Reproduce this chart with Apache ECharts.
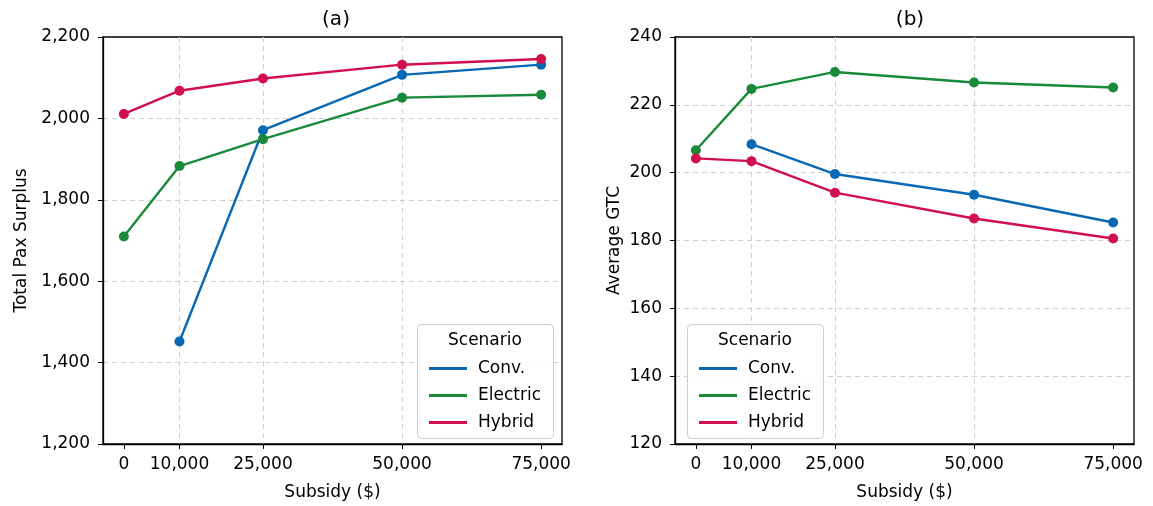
<!DOCTYPE html>
<html>
<head>
<meta charset="utf-8">
<script src="https://cdn.jsdelivr.net/npm/echarts@6/dist/echarts.min.js"></script>
<style>
  html, body { margin: 0; padding: 0; background: #fff; }
  #chart { width: 1153px; height: 506px; }
</style>
</head>
<body>
<div id="chart"></div>
<script>
// subsidy levels on the x axis
const subsidies = [0, 10000, 25000, 50000, 75000];

// panel (a): total pax surplus
const surplusConv = [null, 1452, 1971, 2107, 2132];
const surplusElectric = [1710, 1883, 1949, 2051, 2058];
const surplusHybrid = [2011, 2068, 2098, 2132, 2146];

// panel (b): average GTC
const gtcConv = [null, 208.4, 199.6, 193.5, 185.3];
const gtcElectric = [206.6, 224.7, 229.7, 226.6, 225.1];
const gtcHybrid = [204.2, 203.4, 194.1, 186.5, 180.6];

const scenarios = ["Conv.", "Electric", "Hybrid"];
const colors = ["#0868b4", "#188a3a", "#d20f4d"];

const font = "DejaVu Sans";
const fmt = v => v.toLocaleString("en-US");

const pairs = arr => subsidies.map((x, i) => [x, arr[i]]).filter(p => p[1] !== null);

const gridLine = { color: "#d0d0d0", type: [5, 4], width: 1 };

const xAxis = gridIndex => ({
  type: "value",
  gridIndex,
  min: -3750,
  max: 78750,
  name: "Subsidy ($)",
  nameLocation: "middle",
  nameGap: 40,
  nameTextStyle: { fontFamily: font, fontSize: 17, color: "#000" },
  axisLine: { show: true, onZero: false, lineStyle: { color: "#000", width: 1.3 } },
  axisTick: { show: true, length: 5, customValues: subsidies, lineStyle: { color: "#000" } },
  axisLabel: {
    customValues: subsidies,
    formatter: fmt,
    fontFamily: font,
    fontSize: 17,
    color: "#000",
    margin: 12
  },
  splitLine: { show: true, showMinLine: false, showMaxLine: false, lineStyle: gridLine }
});

const yAxis = (gridIndex, name, min, max, interval, gap) => ({
  type: "value",
  gridIndex,
  min,
  max,
  interval,
  name,
  nameLocation: "middle",
  nameGap: gap,
  nameTextStyle: { fontFamily: font, fontSize: 17, color: "#000" },
  axisLine: { show: true, onZero: false, lineStyle: { color: "#000", width: 1.3 } },
  axisTick: { show: true, length: 5, lineStyle: { color: "#000" } },
  axisLabel: { formatter: fmt, fontFamily: font, fontSize: 17, color: "#000", margin: 13 },
  splitLine: { show: true, showMinLine: false, showMaxLine: false, lineStyle: gridLine }
});

const lineSeries = (name, data, idx, gridIndex) => ({
  type: "line",
  name,
  xAxisIndex: gridIndex,
  yAxisIndex: gridIndex,
  data: pairs(data),
  symbol: "circle",
  symbolSize: 10,
  showSymbol: true,
  lineStyle: { width: 2.4, color: colors[idx] },
  itemStyle: { color: colors[idx] },
  z: 3 + idx
});

const legend = (left, top) => ({
  data: scenarios,
  left,
  top,
  orient: "vertical",
  icon: "rect",
  itemWidth: 38,
  itemHeight: 3,
  itemGap: 10,
  z: 20,
  textStyle: { fontFamily: font, fontSize: 17, color: "#000", padding: [0, 0, 0, 6] },
  selectedMode: false
});

const legendBox = (x, y) => [
  {
    type: "rect",
    left: x,
    top: y,
    shape: { width: 136, height: 114, r: 4 },
    style: { fill: "rgba(255,255,255,0.85)", stroke: "#cccccc", lineWidth: 1 },
    z: 10
  },
  {
    type: "text",
    left: x + 31,
    top: y + 8,
    style: { text: "Scenario", font: "17px DejaVu Sans", fill: "#000" },
    z: 11
  }
];

const chart = echarts.init(document.getElementById("chart"));
chart.setOption({
  backgroundColor: "#fff",
  animation: false,
  title: [
    { text: "(a)", left: 331, top: 5, textAlign: "center",
      textStyle: { fontFamily: font, fontSize: 20, fontWeight: "normal", color: "#000" } },
    { text: "(b)", left: 905, top: 5, textAlign: "center",
      textStyle: { fontFamily: font, fontSize: 20, fontWeight: "normal", color: "#000" } }
  ],
  grid: [
    { left: 103, right: 591, top: 37, bottom: 59, show: true, borderColor: "#000", borderWidth: 1.3 },
    { left: 675, right: 19, top: 37, bottom: 59, show: true, borderColor: "#000", borderWidth: 1.3 }
  ],
  xAxis: [xAxis(0), xAxis(1)],
  yAxis: [
    yAxis(0, "Total Pax Surplus", 1200, 2200, 200, 73),
    yAxis(1, "Average GTC", 120, 240, 20, 52)
  ],
  legend: [legend(424, 355), legend(694, 355)],
  graphic: [...legendBox(417, 324), ...legendBox(687, 324)],
  series: [
    lineSeries("Conv.", surplusConv, 0, 0),
    lineSeries("Electric", surplusElectric, 1, 0),
    lineSeries("Hybrid", surplusHybrid, 2, 0),
    lineSeries("Conv.", gtcConv, 0, 1),
    lineSeries("Electric", gtcElectric, 1, 1),
    lineSeries("Hybrid", gtcHybrid, 2, 1)
  ]
});
</script>
</body>
</html>
